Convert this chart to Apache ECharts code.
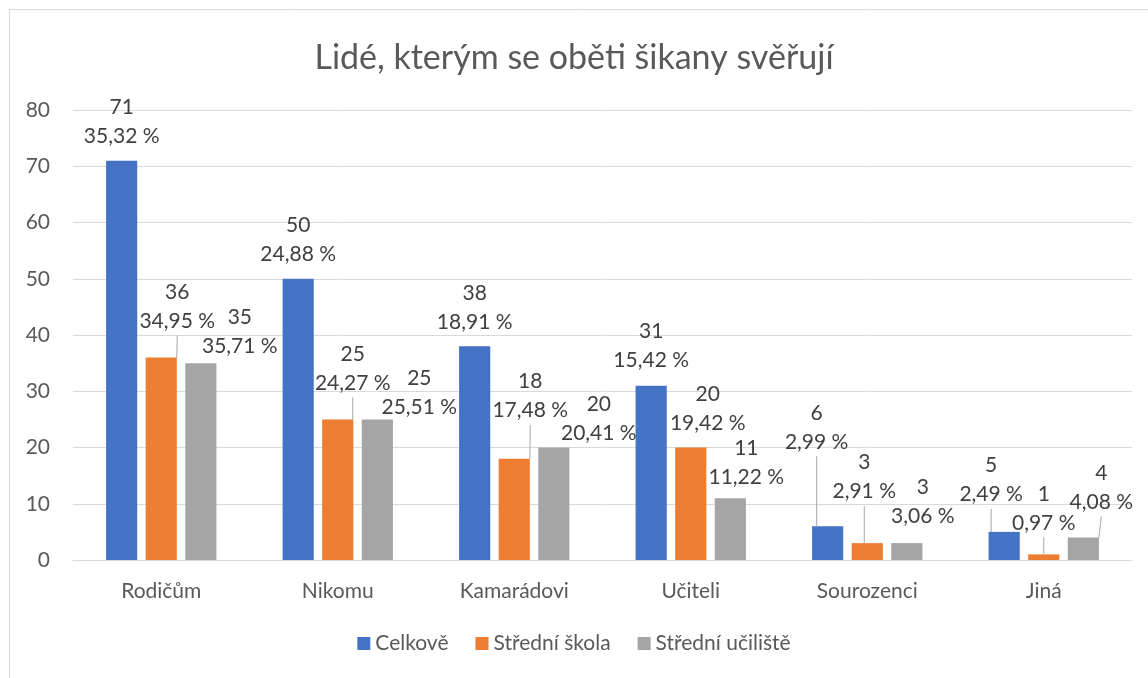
<!DOCTYPE html>
<html>
<head>
<meta charset="utf-8">
<script src="https://cdn.jsdelivr.net/npm/echarts@6/dist/echarts.min.js"></script>
<style>
  html, body { margin: 0; padding: 0; background: #fff; }
  #myChart { width: 1148px; height: 678px; }
</style>
</head>
<body>
<div id="myChart"></div>
<script>
// data
var categories = ['Rodičům', 'Nikomu', 'Kamarádovi', 'Učiteli', 'Sourozenci', 'Jiná'];
var celkove = [71, 50, 38, 31, 6, 5];
var stredniSkola = [36, 25, 18, 20, 3, 1];
var stredniUciliste = [35, 25, 20, 11, 3, 4];
var celkovePct = ['35,32', '24,88', '18,91', '15,42', '2,99', '2,49'];
var skolaPct = ['34,95', '24,27', '17,48', '19,42', '2,91', '0,97'];
var ucilistePct = ['35,71', '25,51', '20,41', '11,22', '3,06', '4,08'];

// where the labels were dragged to in the original, and which got a leader line
var labelShift = [
  [[0, 0], [0, 0], [0, 0], [0, -1], [-11, -60], [-13, -13]],
  [[16, -12], [15, -12], [16, -24], [17, 0], [-3, -27], [0, -7]],
  [[39, 8], [42, 12], [45, 10], [16, 4], [16, -2], [18, -11]]
];
var leader = [
  [0, 0, 0, 0, 1, 1],
  [1, 1, 1, 0, 1, 1],
  [0, 0, 0, 0, 0, 1]
];

var FONT = 'Lato';
var colors = ['#4472C4', '#ED7D31', '#A5A5A5'];

function makeSeries(name, values, pct, idx) {
  return {
    name: name,
    type: 'bar',
    barGap: '27%',
    barCategoryGap: '37.5%',
    itemStyle: { color: colors[idx] },
    data: values.map(function (v, i) {
      return { value: v, pct: pct[i], labelLine: { show: !!leader[idx][i] } };
    }),
    label: {
      show: true,
      position: 'top',
      distance: 10,
      color: '#404040',
      fontFamily: FONT,
      fontSize: 21,
      lineHeight: 29,
      formatter: function (p) { return p.value + '\n' + p.data.pct + ' %'; }
    },
    labelLine: {
      show: true,
      lineStyle: { color: '#A6A6A6', width: 1 }
    },
    labelLayout: function (p) {
      var s = labelShift[idx][p.dataIndex];
      return { dx: s[0], dy: s[1] };
    }
  };
}

var myChart = echarts.init(document.getElementById('myChart'));
var option = {
  backgroundColor: '#fff',
  animation: false,
  textStyle: { fontFamily: FONT },
  graphic: [{
    type: 'rect',
    shape: { x: 9.5, y: 9.5, width: 1300, height: 900 },
    style: { fill: 'none', stroke: '#D9D9D9', lineWidth: 1 },
    silent: true
  }],
  title: {
    text: 'Lidé, kterým se oběti šikany svěřují',
    left: 'center',
    top: 36,
    textStyle: { color: '#595959', fontFamily: FONT, fontSize: 34, fontWeight: 'normal' }
  },
  legend: {
    bottom: 19,
    left: 'center',
    itemWidth: 13,
    itemHeight: 13,
    itemGap: 27,
    icon: 'rect',
    textStyle: { color: '#595959', fontFamily: FONT, fontSize: 21 },
    data: ['Celkově', 'Střední škola', 'Střední učiliště']
  },
  grid: { left: 73, right: 16, top: 110, bottom: 118 },
  xAxis: {
    type: 'category',
    data: categories,
    axisLine: { lineStyle: { color: '#D9D9D9' } },
    axisTick: { show: false },
    axisLabel: { color: '#595959', fontFamily: FONT, fontSize: 21, margin: 21 }
  },
  yAxis: {
    type: 'value',
    min: 0,
    max: 80,
    interval: 10,
    axisLine: { show: false },
    axisTick: { show: false },
    splitLine: { lineStyle: { color: '#D9D9D9' } },
    axisLabel: { color: '#595959', fontFamily: FONT, fontSize: 21, margin: 23 }
  },
  series: [
    makeSeries('Celkově', celkove, celkovePct, 0),
    makeSeries('Střední škola', stredniSkola, skolaPct, 1),
    makeSeries('Střední učiliště', stredniUciliste, ucilistePct, 2)
  ]
};
myChart.setOption(option);
</script>
</body>
</html>
